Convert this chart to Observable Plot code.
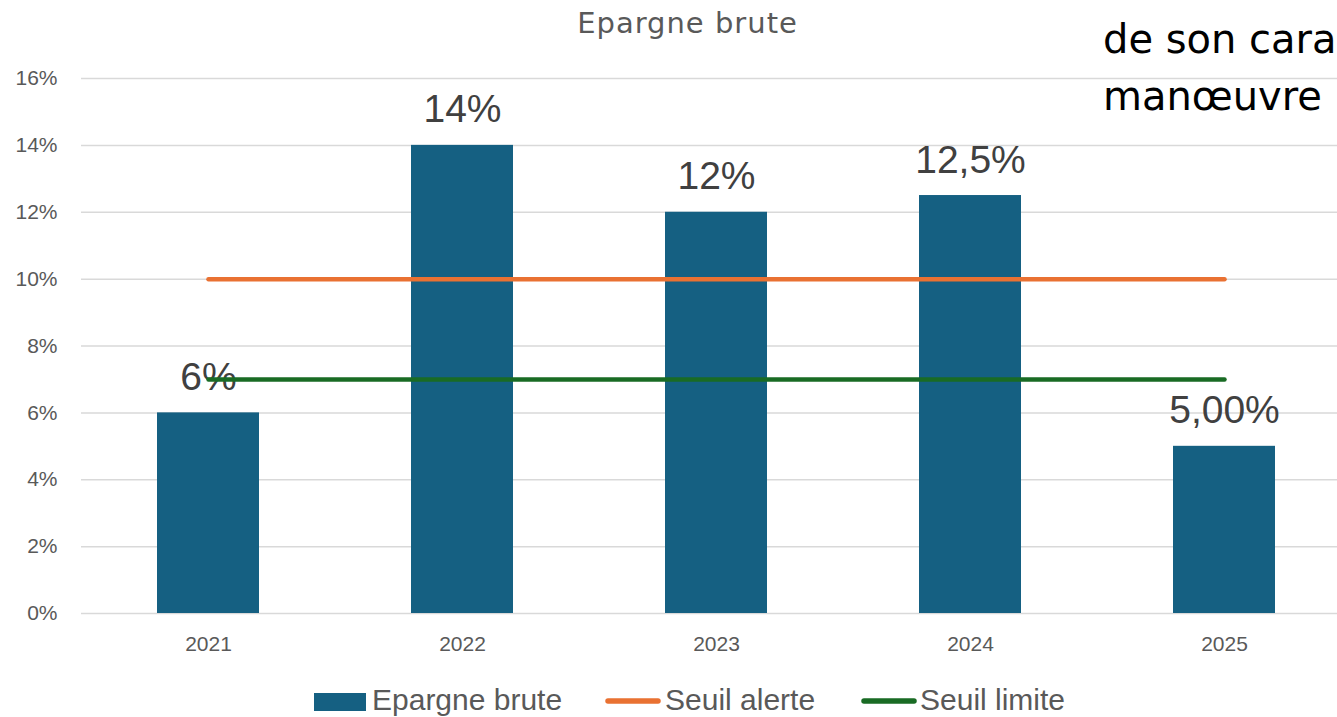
<!DOCTYPE html>
<html><head><meta charset="utf-8">
<script src="https://cdn.jsdelivr.net/npm/d3@7"></script>
<script src="https://cdn.jsdelivr.net/npm/@observablehq/plot@0.6"></script>
<style>
body{margin:0;width:1337px;height:717px;overflow:hidden;background:#fff;position:relative;font-family:"Liberation Sans",Arial,sans-serif;}
#title{position:absolute;left:0;width:1375px;top:6px;text-align:center;font-size:29px;letter-spacing:1px;line-height:34px;color:#595959;font-family:"DejaVu Sans",sans-serif;white-space:nowrap;}
#note{position:absolute;left:1103px;top:11px;font-size:40px;line-height:57px;color:#000;white-space:nowrap;font-family:"DejaVu Sans",sans-serif;}
#chart{position:absolute;left:0;top:0;}
#legend{position:absolute;top:0;left:0;width:1337px;height:717px;font-family:"Liberation Sans",Arial,sans-serif;font-size:30px;line-height:34px;color:#595959;pointer-events:none;}
#legend span{position:absolute;top:683px;white-space:nowrap;}
#legend svg{position:absolute;top:684px;}
</style></head>
<body>
<div id="chart"></div>
<div id="title"></div>
<div id="note"></div>
<div id="legend"></div>
<script>
const years = ["2021","2022","2023","2024","2025"];
const epargne = [6, 14, 12, 12.5, 5];
const labels = ["6%", "14%", "12%", "12,5%", "5,00%"];
const seuilAlerte = [10, 10, 10, 10, 10];
const seuilLimite = [7, 7, 7, 7, 7];
const yTicks = [0, 2, 4, 6, 8, 10, 12, 14, 16];
const titleText = "Epargne brute";
const noteLines = ["de son cara", "manœuvre"];
const seriesNames = ["Epargne brute", "Seuil alerte", "Seuil limite"];
const colors = {bar: "#156082", alerte: "#E97132", limite: "#196B24"};

const rows = years.map((y, i) => ({year: y, v: epargne[i], label: labels[i], alerte: seuilAlerte[i], limite: seuilLimite[i]}));

const plot = Plot.plot({
  width: 1337, height: 660,
  marginLeft: 81, marginRight: 0, marginTop: 78, marginBottom: 47,
  style: {fontFamily: '"Liberation Sans",Arial,sans-serif', background: "transparent"},
  x: {type: "band", domain: years, range: [81, 1351], paddingInner: 0.6, paddingOuter: 0.3, label: null},
  y: {domain: [0, 16], label: null},
  marks: [
    Plot.ruleY(yTicks, {stroke: "#d9d9d9", strokeWidth: 1.5}),
    Plot.barY(rows, {x: "year", y: "v", fill: colors.bar}),
    Plot.text(rows, {x: "year", y: "v", text: "label", dy: -23, lineAnchor: "bottom", fontSize: 39, fill: "#404040"}),
    Plot.line(rows, {x: "year", y: "alerte", stroke: colors.alerte, strokeWidth: 4.5, strokeLinecap: "round"}),
    Plot.line(rows, {x: "year", y: "limite", stroke: colors.limite, strokeWidth: 4.5, strokeLinecap: "round"}),
    Plot.axisY(yTicks, {tickSize: 0, tickPadding: 24, tickFormat: d => d + "%", fontSize: 21, fill: "#595959"}),
    Plot.axisX({tickSize: 0, tickPadding: 23, fontSize: 21, fill: "#595959"})
  ]
});
document.getElementById("chart").appendChild(plot);
document.getElementById("title").textContent = titleText;
document.getElementById("note").innerHTML = noteLines.map(s => `<div>${s}</div>`).join("");

const leg = document.getElementById("legend");
const swatchX = [314, 605, 861];
const textX = [372, 665, 920];
const swColors = [colors.bar, colors.alerte, colors.limite];
seriesNames.forEach((name, i) => {
  const sw = i === 0
    ? `<svg style="left:${swatchX[i]}px" width="52" height="34"><rect x="0" y="9" width="52" height="18" fill="${swColors[i]}"/></svg>`
    : `<svg style="left:${swatchX[i]}px" width="56" height="34"><line x1="3" x2="53" y1="17" y2="17" stroke="${swColors[i]}" stroke-width="5.5" stroke-linecap="round"/></svg>`;
  leg.insertAdjacentHTML("beforeend", sw + `<span style="left:${textX[i]}px">${name}</span>`);
});
</script>
</body></html>
